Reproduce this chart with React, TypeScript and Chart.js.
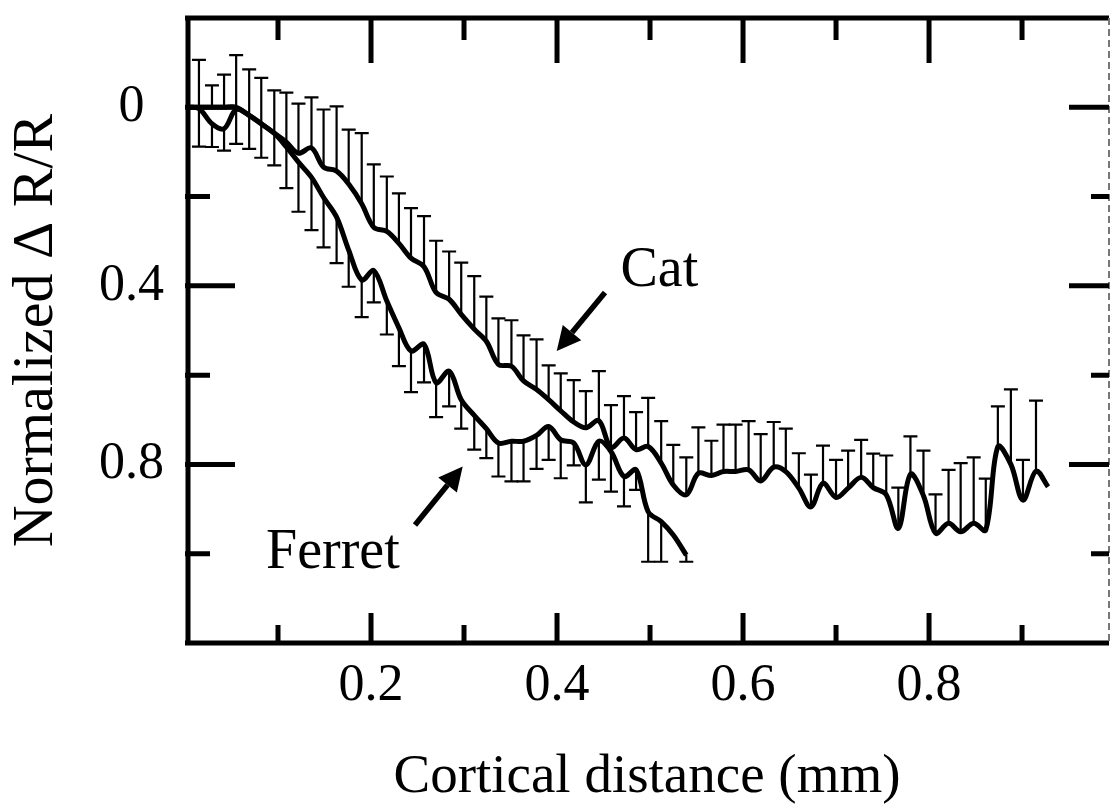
import React, { useEffect, useRef } from 'react';
import { Chart, registerables } from 'chart.js';

Chart.register(...registerables);

// Cortical distance (mm) of each sample
const distanceMm = [
  0.002, 0.015, 0.029, 0.042, 0.055, 0.069, 0.082, 0.096, 0.109, 0.122,
  0.136, 0.149, 0.163, 0.176, 0.190, 0.203, 0.217, 0.230, 0.243, 0.257,
  0.270, 0.284, 0.297, 0.311, 0.324, 0.337, 0.351, 0.364, 0.378, 0.391,
  0.404, 0.418, 0.431, 0.445, 0.458, 0.472, 0.485, 0.498, 0.512, 0.525,
  0.539, 0.552, 0.566, 0.579, 0.592, 0.606, 0.619, 0.633, 0.646, 0.660,
  0.673, 0.686, 0.700, 0.713, 0.727, 0.740, 0.754, 0.767, 0.780, 0.794,
  0.807, 0.821, 0.834, 0.848, 0.861, 0.874, 0.888, 0.901, 0.915, 0.928,
];

// Cat: normalized ΔR/R
const catMean = [
  0.000, 0.000, 0.000, 0.000, 0.000, 0.018, 0.037, 0.058, 0.078, 0.103,
  0.091, 0.134, 0.143, 0.172, 0.216, 0.269, 0.278, 0.305, 0.338, 0.357,
  0.415, 0.430, 0.464, 0.497, 0.524, 0.576, 0.580, 0.613, 0.632, 0.655,
  0.680, 0.705, 0.718, 0.702, 0.762, 0.741, 0.767, 0.760, 0.797, 0.846,
  0.868, 0.820, 0.825, 0.816, 0.816, 0.812, 0.837, 0.806, 0.816, 0.853,
  0.895, 0.842, 0.874, 0.853, 0.829, 0.852, 0.868, 0.943, 0.822, 0.870,
  0.954, 0.932, 0.951, 0.932, 0.947, 0.760, 0.800, 0.880, 0.815, 0.850,
];

// Cat: end of the (upward) error bar
const catErrEnd = [
  null, -0.106, -0.049, -0.073, -0.117, -0.085, -0.066, -0.038, -0.033, -0.008,
  -0.022, 0.005, -0.002, 0.050, 0.058, 0.128, 0.155, 0.193, 0.226, 0.244,
  0.299, 0.323, 0.348, 0.378, 0.424, 0.473, 0.477, 0.511, 0.520, 0.578,
  0.596, 0.611, 0.636, 0.591, 0.667, 0.647, 0.683, 0.651, 0.703, 0.756,
  0.784, 0.717, 0.747, 0.711, 0.711, 0.703, 0.732, 0.705, 0.720, 0.775,
  0.823, 0.758, 0.790, 0.769, 0.745, 0.776, 0.780, 0.852, 0.737, 0.769,
  0.867, 0.812, 0.797, 0.784, 0.832, 0.670, 0.632, 0.790, 0.657, null,
];

// Ferret: normalized ΔR/R
const ferretMean = [
  0.000, 0.003, 0.037, 0.048, 0.005, 0.018, 0.037, 0.058, 0.089, 0.123,
  0.157, 0.202, 0.246, 0.320, 0.387, 0.366, 0.434, 0.494, 0.546, 0.531,
  0.617, 0.591, 0.655, 0.690, 0.720, 0.752, 0.748, 0.748, 0.735, 0.715,
  0.745, 0.752, 0.801, 0.748, 0.771, 0.827, 0.812, 0.906, 0.928, 0.958,
  1.003,
];

// Ferret: end of the (downward) error bar
const ferretErrEnd = [
  null, 0.088, 0.089, 0.097, 0.082, 0.093, 0.113, 0.130, 0.181, 0.234,
  0.275, 0.314, 0.349, 0.402, 0.470, 0.437, 0.509, 0.580, 0.638, 0.616,
  0.694, 0.670, 0.720, 0.767, 0.786, 0.827, 0.838, 0.838, 0.810, 0.790,
  0.831, 0.802, 0.885, 0.834, 0.861, 0.894, 0.857, 1.018, 1.018, null,
  1.018,
];

const xTickValues = [0.2, 0.4, 0.6, 0.8];
const xTickLabels = ['0.2', '0.4', '0.6', '0.8'];
const xMinorTicks = [0.1, 0.3, 0.5, 0.7, 0.9];
const yTickValues = [0, 0.4, 0.8];
const yTickLabels = ['0', '0.4', '0.8'];
const yMinorTicks = [0.2, 0.6, 1.0];

const xTitle = 'Cortical distance (mm)';
const yTitle = 'Normalized \u0394 R/R';

const annotations = [
  { text: 'Cat', x: 0.51, y: 0.4, from: [0.4516, 0.415], to: [0.3997, 0.546] },
  { text: 'Ferret', x: 0.159, y: 1.031, from: [0.2473, 0.9355], to: [0.2986, 0.8045] },
];

const FONT = '"Liberation Serif", "Times New Roman", serif';

const errorBarSets = [
  { mean: catMean, end: catErrEnd },
  { mean: ferretMean, end: ferretErrEnd },
];

const figurePlugin = {
  id: 'figureDecor',
  beforeDatasetsDraw(chart: any) {
    const { ctx, scales } = chart;
    const xs = scales.x;
    const ys = scales.y;
    ctx.save();
    ctx.strokeStyle = '#000';
    ctx.lineWidth = 2.2;
    ctx.lineCap = 'butt';
    errorBarSets.forEach((set) => {
      set.mean.forEach((m: number, i: number) => {
        const e = set.end[i];
        if (e === null || e === undefined) return;
        const px = xs.getPixelForValue(distanceMm[i]);
        const y1 = ys.getPixelForValue(m);
        const y2 = ys.getPixelForValue(e);
        ctx.beginPath();
        ctx.moveTo(px, y1);
        ctx.lineTo(px, y2);
        ctx.moveTo(px - 7, y2);
        ctx.lineTo(px + 7, y2);
        ctx.stroke();
      });
    });
    ctx.restore();
  },
  afterDraw(chart: any) {
    const { ctx, chartArea, scales } = chart;
    const xs = scales.x;
    const ys = scales.y;
    const { left, right, top, bottom } = chartArea;
    ctx.save();
    ctx.strokeStyle = '#000';
    ctx.lineCap = 'butt';

    // frame: left, top, bottom heavy; right thin
    ctx.lineWidth = 5;
    ctx.beginPath();
    ctx.moveTo(left + 3, top);
    ctx.lineTo(left + 3, bottom + 2);
    ctx.moveTo(left, top);
    ctx.lineTo(right, top);
    ctx.moveTo(left, bottom);
    ctx.lineTo(right, bottom);
    ctx.stroke();

    ctx.save();
    ctx.lineWidth = 2;
    ctx.strokeStyle = '#777';
    ctx.setLineDash([7, 4]);
    ctx.beginPath();
    ctx.moveTo(right, top);
    ctx.lineTo(right, bottom);
    ctx.stroke();
    ctx.restore();

    // inward ticks
    ctx.lineWidth = 5;
    ctx.beginPath();
    xTickValues.forEach((v) => {
      const p = xs.getPixelForValue(v);
      ctx.moveTo(p, top);
      ctx.lineTo(p, top + 45);
      ctx.moveTo(p, bottom);
      ctx.lineTo(p, bottom - 30);
    });
    xMinorTicks.forEach((v) => {
      const p = xs.getPixelForValue(v);
      ctx.moveTo(p, top);
      ctx.lineTo(p, top + 22);
      ctx.moveTo(p, bottom);
      ctx.lineTo(p, bottom - 18);
    });
    yTickValues.forEach((v) => {
      const p = ys.getPixelForValue(v);
      ctx.moveTo(left, p);
      ctx.lineTo(left + 50, p);
      ctx.moveTo(right, p);
      ctx.lineTo(right - 40, p);
    });
    yMinorTicks.forEach((v) => {
      const p = ys.getPixelForValue(v);
      ctx.moveTo(left, p);
      ctx.lineTo(left + 25, p);
      ctx.moveTo(right, p);
      ctx.lineTo(right - 18, p);
    });
    ctx.stroke();

    // annotations: labels and arrows
    ctx.fillStyle = '#000';
    ctx.font = `56px ${FONT}`;
    ctx.textAlign = 'center';
    ctx.textBaseline = 'alphabetic';
    annotations.forEach((a) => {
      ctx.fillText(a.text, xs.getPixelForValue(a.x), ys.getPixelForValue(a.y));
      const x1 = xs.getPixelForValue(a.from[0]);
      const y1 = ys.getPixelForValue(a.from[1]);
      const x2 = xs.getPixelForValue(a.to[0]);
      const y2 = ys.getPixelForValue(a.to[1]);
      const ang = Math.atan2(y2 - y1, x2 - x1);
      const headLen = 24;
      const headHalf = 12;
      const bx = x2 - headLen * Math.cos(ang);
      const by = y2 - headLen * Math.sin(ang);
      ctx.lineWidth = 5.5;
      ctx.beginPath();
      ctx.moveTo(x1, y1);
      ctx.lineTo(bx, by);
      ctx.stroke();
      ctx.beginPath();
      ctx.moveTo(x2, y2);
      ctx.lineTo(bx + headHalf * Math.sin(ang), by - headHalf * Math.cos(ang));
      ctx.lineTo(bx - headHalf * Math.sin(ang), by + headHalf * Math.cos(ang));
      ctx.closePath();
      ctx.fill();
    });
    ctx.restore();
  },
};

function labelFor(values: number[], labels: string[], value: number) {
  const idx = values.findIndex((v) => Math.abs(v - value) < 1e-6);
  return idx >= 0 ? labels[idx] : '';
}

function noPadding(s: any) {
  s.paddingTop = 0;
  s.paddingBottom = 0;
  s.paddingLeft = 0;
  s.paddingRight = 0;
}

export default function App() {
  const canvasRef = useRef<HTMLCanvasElement | null>(null);

  useEffect(() => {
    const canvas = canvasRef.current;
    if (!canvas) return;
    const catData = distanceMm.map((x, i) => ({ x, y: catMean[i] }));
    const ferretData = ferretMean.map((y, i) => ({ x: distanceMm[i], y }));

    const chart = new Chart(canvas, {
      type: 'line',
      data: {
        datasets: [
          {
            label: 'Cat',
            data: catData,
            borderColor: '#000',
            borderWidth: 5,
            pointRadius: 0,
            tension: 0.35,
            fill: false,
          },
          {
            label: 'Ferret',
            data: ferretData,
            borderColor: '#000',
            borderWidth: 5,
            pointRadius: 0,
            tension: 0.35,
            fill: false,
          },
        ],
      },
      options: {
        animation: false,
        responsive: false,
        devicePixelRatio: 1,
        layout: { padding: { top: 18, right: 2, left: 0, bottom: 0 } },
        plugins: {
          legend: { display: false },
          tooltip: { enabled: false },
        },
        scales: {
          x: {
            type: 'linear',
            min: 0,
            max: 0.9935,
            grid: { display: false, drawTicks: false },
            border: { display: false },
            ticks: {
              stepSize: 0.2,
              includeBounds: false,
              autoSkip: false,
              maxRotation: 0,
              minRotation: 0,
              padding: 12,
              color: '#000',
              font: { family: FONT, size: 52 },
              callback: (v: any) => labelFor(xTickValues, xTickLabels, Number(v)),
            },
            title: {
              display: true,
              text: xTitle,
              color: '#000',
              font: { family: FONT, size: 55, lineHeight: 1 },
              padding: { top: 0, bottom: 0 },
            },
            afterFit: (s: any) => {
              s.height = 162;
              noPadding(s);
            },
          },
          y: {
            type: 'linear',
            min: -0.2,
            max: 1.2,
            reverse: true,
            grid: { display: false, drawTicks: false },
            border: { display: false },
            ticks: {
              stepSize: 0.2,
              includeBounds: false,
              autoSkip: false,
              padding: 21,
              crossAlign: 'center',
              color: '#000',
              font: { family: FONT, size: 52 },
              callback: (v: any) => labelFor(yTickValues, yTickLabels, Number(v)),
            },
            title: {
              display: true,
              text: yTitle,
              color: '#000',
              font: { family: FONT, size: 58, lineHeight: 1.2 },
              padding: { top: 2, bottom: 0 },
            },
            afterFit: (s: any) => {
              s.width = 185;
              noPadding(s);
            },
          },
        },
      },
      plugins: [figurePlugin],
    });
    return () => chart.destroy();
  }, []);

  return (
    <div style={{ position: 'absolute', left: 0, top: 0, width: 1111, height: 805, background: '#fff' }}>
      <canvas ref={canvasRef} width={1111} height={805} style={{ display: 'block' }} />
    </div>
  );
}
